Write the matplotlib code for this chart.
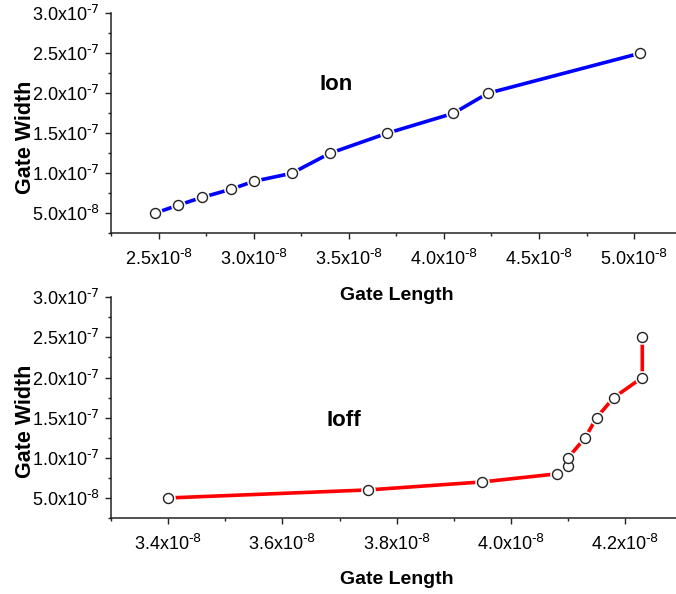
import numpy as np
import matplotlib
matplotlib.use("Agg")
import matplotlib.pyplot as plt
from matplotlib.ticker import MultipleLocator, FuncFormatter

# gate sizing sweep: gate length vs gate width for the Ion and Ioff targets
ion_length = [2.48e-8, 2.60e-8, 2.73e-8, 2.88e-8, 3.00e-8, 3.20e-8,
              3.40e-8, 3.70e-8, 4.05e-8, 4.23e-8, 5.03e-8]
ion_width = [5.0e-8, 6.0e-8, 7.0e-8, 8.0e-8, 9.0e-8, 1.0e-7,
             1.25e-7, 1.5e-7, 1.75e-7, 2.0e-7, 2.5e-7]

ioff_length = [3.40e-8, 3.75e-8, 3.95e-8, 4.08e-8, 4.10e-8, 4.10e-8,
               4.13e-8, 4.15e-8, 4.18e-8, 4.23e-8, 4.23e-8]
ioff_width = [5.0e-8, 6.0e-8, 7.0e-8, 8.0e-8, 9.0e-8, 1.0e-7,
              1.25e-7, 1.5e-7, 1.75e-7, 2.0e-7, 2.5e-7]

plt.rcParams['font.family'] = ['Liberation Sans', 'DejaVu Sans']
plt.rcParams['mathtext.default'] = 'regular'


def sci_label(v, pos):
    if v <= 0:
        return ''
    e = int(np.floor(np.log10(v) + 1e-9))
    m = v / 10.0 ** e
    return r'%.1fx10$^{\text{%d}}$' % (m, e)


def style_axes(ax, xmajor, xminor):
    ax.patch.set_visible(False)
    ax.spines['top'].set_visible(False)
    ax.spines['right'].set_visible(False)
    for s in ('left', 'bottom'):
        ax.spines[s].set_linewidth(1.1)
        ax.spines[s].set_color('#222222')
    ax.xaxis.set_major_locator(MultipleLocator(xmajor))
    ax.xaxis.set_minor_locator(MultipleLocator(xminor))
    ax.yaxis.set_major_locator(MultipleLocator(5e-8))
    ax.yaxis.set_minor_locator(MultipleLocator(2.5e-8))
    ax.xaxis.set_major_formatter(FuncFormatter(sci_label))
    ax.yaxis.set_major_formatter(FuncFormatter(sci_label))
    ax.tick_params(which='major', direction='out', length=4.5, width=1.0,
                   labelsize=13, color='#222222')
    ax.tick_params(which='minor', direction='out', length=2.3, width=1.0,
                   color='#222222')
    ax.tick_params(axis='y', which='major', pad=3.5)
    ax.tick_params(axis='x', which='major', pad=7)
    ax.set_ylim(2.5e-8, 3.0e-7)
    ax.set_xlabel('Gate Length', fontsize=14, fontweight='bold', va='top')
    ax.set_ylabel('Gate Width', fontsize=15.5, fontweight='bold')


def draw_series(ax, x, y, color):
    ax.plot(x, y, color=color, linewidth=2.6, zorder=2)
    # white halo so the line stops short of each marker
    ax.plot(x, y, linestyle='none', marker='o', markersize=9.5,
            markerfacecolor='white', markeredgecolor='white', zorder=3)
    ax.plot(x, y, linestyle='none', marker='o', markersize=7.2,
            markerfacecolor='white', markeredgecolor='#222222',
            markeredgewidth=1.0, zorder=4)


fig = plt.figure(figsize=(6.76, 5.94), dpi=100)

ax1 = fig.add_axes([0.1642, 0.6072, 0.8358, 0.3704])
draw_series(ax1, ion_length, ion_width, '#0000ff')
style_axes(ax1, 5e-9, 2.5e-9)
ax1.set_xlim(2.25e-8, 5.22e-8)
ax1.xaxis.set_label_coords(0.505, -0.245)
ax1.yaxis.set_label_coords(-0.133, 0.438)
ax1.text(0.398, 0.678, 'Ion', transform=ax1.transAxes, fontsize=16,
         fontweight='bold', ha='center', va='center')

ax2 = fig.add_axes([0.1642, 0.1279, 0.8358, 0.3716])
draw_series(ax2, ioff_length, ioff_width, '#ff0000')
style_axes(ax2, 2e-9, 1e-9)
ax2.set_xlim(3.3e-8, 4.289e-8)
ax2.xaxis.set_label_coords(0.505, -0.24)
ax2.yaxis.set_label_coords(-0.133, 0.44)
ax2.text(0.413, 0.44, 'Ioff', transform=ax2.transAxes, fontsize=16,
         fontweight='bold', ha='center', va='center')

fig.savefig('out.png', dpi=100)
